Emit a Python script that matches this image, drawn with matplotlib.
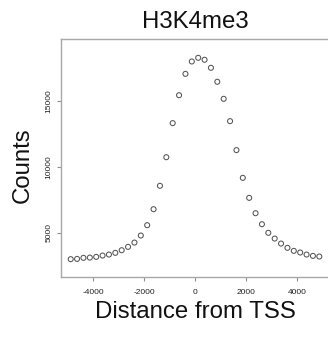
import numpy as np
import matplotlib
matplotlib.use("Agg")
import matplotlib.pyplot as plt

plt.rcParams['font.family'] = ['Liberation Sans', 'DejaVu Sans']

# distance from TSS (bin centres) and counts
distance = [-4875, -4625, -4375, -4125, -3875, -3625, -3375, -3125, -2875, -2625,
            -2375, -2125, -1875, -1625, -1375, -1125, -875, -625, -375, -125,
            125, 375, 625, 875, 1125, 1375, 1625, 1875, 2125, 2375,
            2625, 2875, 3125, 3375, 3625, 3875, 4125, 4375, 4625, 4875]
counts = [2990, 3010, 3090, 3110, 3165, 3265, 3340, 3470, 3670, 3925,
          4250, 4785, 5570, 6785, 8560, 10730, 13320, 15440, 17060, 18000,
          18280, 18130, 17520, 16460, 15165, 13470, 11270, 9165, 7645, 6480,
          5645, 4990, 4555, 4175, 3850, 3620, 3495, 3340, 3240, 3190]
xticks = [-4000, -2000, 0, 2000, 4000]
yticks = [5000, 10000, 15000]

W, H = 328, 337
fig = plt.figure(figsize=(W / 100, H / 100), dpi=100)

# axes box in pixels: left 61, right 329 (just off the canvas), top 38.7, bottom 277.3
l, r, t, b = 61, 329, 38.7, 277.3
ax = fig.add_axes([l / W, (H - b) / H, (r - l) / W, (b - t) / H])

ax.scatter(distance, counts, s=13, facecolors='none', edgecolors='#555555',
           linewidths=0.75)

ax.set_xlim(-5255, 5255)
ax.set_ylim(1613, 19730)
ax.set_xticks(xticks)
ax.set_yticks(yticks)
ax.set_xticklabels([str(v) for v in xticks])
ax.set_yticklabels([str(v) for v in yticks], rotation=90, va='center')

for s in ax.spines.values():
    s.set_color('#a8a8a8')
    s.set_linewidth(1.0)
ax.spines['right'].set_visible(False)

ax.tick_params(axis='both', length=3.2, width=0.8, color='#909090',
               labelsize=6.0, labelcolor='#222222')
ax.tick_params(axis='x', pad=5)
ax.tick_params(axis='y', pad=3)

fig.text(195 / W, (H - 28.3) / H, 'H3K4me3', ha='center', va='baseline',
         fontsize=17.3, color='#111111')
fig.text(195 / W, (H - 318) / H, 'Distance from TSS', ha='center',
         va='baseline', fontsize=17.3, color='#111111')
fig.text(22.5 / W, (H - 165) / H, 'Counts', ha='center', va='center',
         rotation=90, fontsize=17.3, color='#111111')

fig.savefig('out.png', dpi=100)
